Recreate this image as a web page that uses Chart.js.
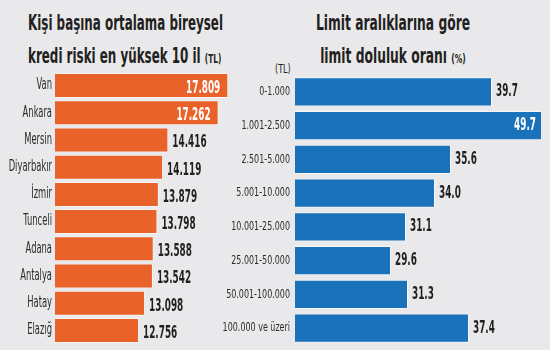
<!DOCTYPE html>
<html lang="tr">
<head>
<meta charset="utf-8">
<script src="https://cdn.jsdelivr.net/npm/chart.js@4/dist/chart.umd.min.js"></script>
<style>
body { margin: 0; background: #e9e9eb; }
#wrap { position: relative; width: 550px; height: 350px; overflow: hidden; background: #e9e9eb;
        font-family: 'DejaVu Sans Condensed', 'DejaVu Sans', sans-serif; }
.ttl { position: absolute; color: #231f20; font-weight: bold; font-size: 21px; line-height: 33px;
       white-space: nowrap; }
.ttl small { font-size: 13px; }
#t1 { left: 28px; top: 7px; transform: scaleX(0.63); transform-origin: left top; }
#t2 { left: 243px; width: 300px; top: 7px; text-align: center; transform: scaleX(0.65); transform-origin: 50% 0; }
#tl { position: absolute; left: 275px; top: 62px; font-size: 12px; color: #231f20;
      transform: scaleX(0.75); transform-origin: left top; }
canvas { position: absolute; }
#c1 { left: 0; top: 60px; }
#c2 { left: 190px; top: 60px; }
</style>
</head>
<body>
<div id="wrap">
  <div class="ttl" id="t1">Kişi başına ortalama bireysel<br>kredi riski en yüksek 10 il <small>(TL)</small></div>
  <div class="ttl" id="t2">Limit aralıklarına göre<br>limit doluluk oranı <small>(%)</small></div>
  <div id="tl">(TL)</div>
  <canvas id="c1" width="275" height="290"></canvas>
  <canvas id="c2" width="360" height="290"></canvas>
</div>
<script>
// kişi başına kredi riski (TL)
const iller = ['Van', 'Ankara', 'Mersin', 'Diyarbakır', 'İzmir', 'Tunceli', 'Adana', 'Antalya', 'Hatay', 'Elazığ'];
const krediRiski = [17809, 17262, 14416, 14119, 13879, 13798, 13588, 13542, 13098, 12756];

// limit doluluk oranı (%)
const limitAraliklari = ['0-1.000', '1.001-2.500', '2.501-5.000', '5.001-10.000', '10.001-25.000',
                         '25.001-50.000', '50.001-100.000', '100.000 ve üzeri'];
const dolulukOrani = [39.7, 49.7, 35.6, 34.0, 31.1, 29.6, 31.3, 37.4];

const FONT = "'DejaVu Sans Condensed', 'DejaVu Sans', sans-serif";

// dar yazı: yatayda sıkıştırılmış metin
function darYaz(ctx, text, x, y, sx, align) {
    ctx.save();
    ctx.translate(x, y);
    ctx.scale(sx, 1);
    ctx.textAlign = align;
    ctx.fillText(text, 0, 0);
    ctx.restore();
}

// eksen etiketleri ve bar uçlarındaki değerler
const etiketler = {
    id: 'etiketler',
    afterDatasetsDraw(chart, args, opts) {
        const ctx = chart.ctx;
        const yScale = chart.scales.y;
        const meta = chart.getDatasetMeta(0);
        const values = chart.data.datasets[0].data;
        const right = chart.chartArea.right;

        ctx.save();
        ctx.textBaseline = 'middle';
        ctx.font = opts.tickSize + 'px ' + FONT;
        ctx.fillStyle = '#2b2b2b';
        chart.data.labels.forEach((lbl, i) => {
            darYaz(ctx, lbl, yScale.right - opts.tickPad, yScale.getPixelForTick(i), opts.tickSx, 'right');
        });

        ctx.font = 'bold 17px ' + FONT;
        meta.data.forEach((bar, i) => {
            const inside = opts.inside.includes(i);
            const barEnd = Math.min(bar.x, right);
            ctx.fillStyle = inside ? '#ffffff' : '#231f20';
            darYaz(ctx, opts.format(values[i]),
                inside ? barEnd - opts.pad : barEnd + 4,
                bar.y + opts.dy, 0.58, inside ? 'right' : 'left');
        });
        ctx.restore();
    }
};

function barOptions(min, max, axisWidth, padding, labelOpts) {
    return {
        indexAxis: 'y',
        responsive: false,
        animation: false,
        layout: { padding: padding },
        plugins: {
            legend: { display: false },
            tooltip: { enabled: false },
            etiketler: labelOpts
        },
        scales: {
            x: { type: 'linear', min: min, max: max, display: false },
            y: {
                grid: { display: false, drawTicks: false },
                border: { display: false },
                ticks: { display: false },
                afterFit: s => { s.width = axisWidth; }
            }
        }
    };
}

new Chart(document.getElementById('c1'), {
    type: 'bar',
    data: {
        labels: iller,
        datasets: [{
            data: krediRiski,
            backgroundColor: '#e8622a',
            borderColor: 'rgba(255,255,255,0.6)',
            borderWidth: 1,
            categoryPercentage: 1,
            barPercentage: 0.92
        }]
    },
    options: barOptions(8000, 20000, 55, { top: 12, bottom: 6, right: 8, left: 0 }, {
        format: v => v.toLocaleString('tr-TR'),
        inside: [0, 1], pad: 8, dy: 3, tickPad: 3, tickSize: 15, tickSx: 0.62
    }),
    plugins: [etiketler]
});

new Chart(document.getElementById('c2'), {
    type: 'bar',
    data: {
        labels: limitAraliklari,
        datasets: [{
            data: dolulukOrani,
            backgroundColor: '#1a72bb',
            borderColor: 'rgba(255,255,255,0.6)',
            borderWidth: 1,
            categoryPercentage: 1,
            barPercentage: 0.86,
            clip: 0
        }]
    },
    options: barOptions(20, 44.6, 105, { top: 15, bottom: 5, right: 9, left: 0 }, {
        format: v => v.toFixed(1),
        inside: [1], pad: 5, dy: 0, tickPad: 5, tickSize: 12.5, tickSx: 0.71
    }),
    plugins: [etiketler]
});
</script>
</body>
</html>
